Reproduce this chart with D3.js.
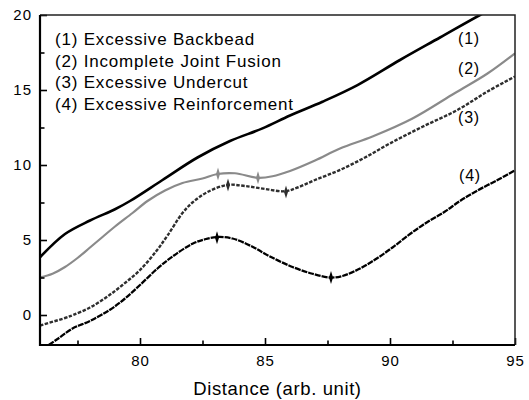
<!DOCTYPE html>
<html>
<head>
<meta charset="utf-8">
<script src="https://cdn.jsdelivr.net/npm/d3@7"></script>
<style>
  body { margin: 0; background: #fff; }
  text { font-family: "Liberation Sans", Arial, sans-serif; fill: #000; }
  .tick-label { font-size: 15px; letter-spacing: 1px; }
  .legend { font-size: 17px; letter-spacing: 0.8px; }
  .curve-label { font-size: 16px; letter-spacing: 0.8px; }
  .x-title { font-size: 18.5px; letter-spacing: 0.6px; }
</style>
</head>
<body>
<svg class="chart" width="529" height="400"></svg>
<script>
// ---- data ----
const x1 = [76, 77, 78, 79, 79.6, 80.9, 82.3, 83.6, 84.9, 86, 87.3, 88.7, 90.4, 92, 93.6, 95];
const y1 = [3.85, 5.4, 6.3, 7.05, 7.6, 9.0, 10.5, 11.6, 12.44, 13.3, 14.22, 15.33, 17.0, 18.5, 20, 21.2];

const x2 = [76, 76.5, 77, 77.5, 78, 78.5, 79, 79.7, 80.3, 81, 81.7, 82.5, 83.1, 83.8, 84.7, 85.3, 86, 87, 88, 89.3, 90.9, 92.6, 93.9, 95];
const y2 = [2.5, 2.75, 3.2, 3.8, 4.5, 5.2, 5.9, 6.8, 7.6, 8.3, 8.8, 9.1, 9.4, 9.45, 9.15, 9.25, 9.6, 10.3, 11.1, 11.9, 13.1, 14.8, 16.1, 17.45];

const x3 = [76, 77, 77.33, 78, 78.67, 79.3, 80, 80.67, 81.1, 81.7, 82.1, 82.7, 83.5, 84.2, 85, 85.8, 86.3, 87, 88, 89, 90, 91.3, 92.7, 93.9, 95];
const y3 = [-0.7, -0.2, 0, 0.5, 1.2, 2.0, 3.0, 4.3, 5.3, 6.8, 7.5, 8.2, 8.67, 8.6, 8.4, 8.25, 8.5, 9.0, 9.67, 10.5, 11.44, 12.55, 13.67, 14.9, 15.9];

const x4 = [76.35, 76.7, 77.3, 78, 78.8, 79.4, 80, 80.7, 81.3, 82.1, 82.6, 83.1, 83.7, 84.5, 85.2, 86.1, 86.9, 87.6, 88.1, 88.8, 89.5, 90.1, 90.8, 91.5, 92.2, 92.8, 93.5, 94.3, 95];
const y4 = [-2, -1.6, -0.9, -0.4, 0.35, 1.1, 2.0, 3.1, 3.9, 4.75, 5.05, 5.2, 5.1, 4.55, 3.9, 3.2, 2.75, 2.5, 2.6, 3.1, 3.8, 4.5, 5.4, 6.2, 6.9, 7.6, 8.3, 9.0, 9.65];

// marked points on curves 2, 3, 4
const markX = [83.12, 84.72, 83.52, 85.84, 83.08, 87.64];
const markY = [9.4, 9.15, 8.67, 8.2, 5.15, 2.5];
const markCurve = [2, 2, 3, 3, 4, 4];

const legendLabels = ['(1) Excessive Backbead', '(2) Incomplete Joint Fusion', '(3) Excessive Undercut', '(4) Excessive Reinforcement'];
const curveTags = ['(1)', '(2)', '(3)', '(4)'];
const tagX = [93.16, 93.16, 93.16, 93.2];
const tagY = [18.47, 16.47, 13.2, 9.33];

const xTicks = [80, 85, 90, 95];
const xMinor = [77.5, 82.5, 87.5, 92.5];
const yTicks = [0, 5, 10, 15, 20];
const yMinor = [2.5, 7.5, 12.5, 17.5];

// ---- chart ----
const svg = d3.select('.chart');
const margin = { left: 40, top: 15, right: 14, bottom: 55 };
const width = +svg.attr('width') - margin.left - margin.right;
const height = +svg.attr('height') - margin.top - margin.bottom;

const x = d3.scaleLinear().domain([76, 95]).range([0, width]);
const y = d3.scaleLinear().domain([-2, 20]).range([height, 0]);

const g = svg.append('g').attr('transform', `translate(${margin.left},${margin.top})`);

g.append('clipPath').attr('id', 'plot')
  .append('rect').attr('width', width).attr('height', height);

const styles = [
  { stroke: '#000', width: 2.6, dash: null },
  { stroke: '#8a8a8a', width: 2.2, dash: null },
  { stroke: '#2e2e2e', width: 2.4, dash: '3.5,1.5' },
  { stroke: '#000', width: 2.3, dash: '6,1' }
];
const series = [[x1, y1], [x2, y2], [x3, y3], [x4, y4]];

const line = d3.line()
  .x(d => x(d[0]))
  .y(d => y(d[1]))
  .curve(d3.curveCatmullRom.alpha(0.5));

const curves = g.append('g').attr('clip-path', 'url(#plot)');
series.forEach((s, i) => {
  const pts = s[0].map((v, j) => [v, s[1][j]]);
  curves.append('path')
    .datum(pts)
    .attr('d', line)
    .attr('fill', 'none')
    .attr('stroke', styles[i].stroke)
    .attr('stroke-width', styles[i].width)
    .attr('stroke-dasharray', styles[i].dash)
    .attr('stroke-linejoin', 'round');
});

// vertical diamond markers
g.selectAll('.mark')
  .data(markX.map((v, i) => ({ x: v, y: markY[i], c: markCurve[i] })))
  .enter()
  .append('path')
  .attr('class', 'mark')
  .attr('transform', d => `translate(${x(d.x)},${y(d.y)})`)
  .attr('d', 'M0,-6.5L2,0L0,6.5L-2,0Z')
  .attr('fill', d => styles[d.c - 1].stroke);

// axes
const xAxis = d3.axisBottom(x).tickValues(xTicks).tickSize(-7).tickPadding(10).tickFormat(d3.format('d'));
const yAxis = d3.axisLeft(y).tickValues(yTicks).tickSize(-7).tickPadding(8).tickFormat(d3.format('d'));

const xAxisG = g.append('g').attr('transform', `translate(0,${height})`).call(xAxis);
const yAxisG = g.append('g').call(yAxis);

[xAxisG, yAxisG].forEach(a => {
  a.select('.domain').remove();
  a.selectAll('.tick line').attr('stroke', '#000').attr('stroke-width', 1.6);
  a.selectAll('.tick text').attr('class', 'tick-label').attr('fill', '#000');
});

g.append('g').attr('transform', `translate(0,${height})`)
  .call(d3.axisBottom(x).tickValues(xMinor).tickSize(-4.5).tickFormat(''))
  .call(a => a.select('.domain').remove())
  .selectAll('.tick line').attr('stroke', '#000').attr('stroke-width', 1.6);

g.append('g')
  .call(d3.axisLeft(y).tickValues(yMinor).tickSize(-4.5).tickFormat(''))
  .call(a => a.select('.domain').remove())
  .selectAll('.tick line').attr('stroke', '#000').attr('stroke-width', 1.6);

// frame
g.append('path')
  .attr('d', `M0,0H${width}V${height}`)
  .attr('fill', 'none').attr('stroke', '#222').attr('stroke-width', 1.5);
g.append('path')
  .attr('d', `M0,0V${height}H${width}`)
  .attr('fill', 'none').attr('stroke', '#000').attr('stroke-width', 2.2);

// legend text
g.selectAll('.legend')
  .data(legendLabels)
  .enter()
  .append('text')
  .attr('class', 'legend')
  .attr('x', 15)
  .attr('y', (d, i) => 30 + i * 21.7)
  .text(d => d);

// curve tags
g.selectAll('.curve-label')
  .data(curveTags)
  .enter()
  .append('text')
  .attr('class', 'curve-label')
  .attr('x', (d, i) => x(tagX[i]))
  .attr('y', (d, i) => y(tagY[i]))
  .attr('text-anchor', 'middle')
  .attr('dy', '0.35em')
  .text(d => d);

g.append('text')
  .attr('class', 'x-title')
  .attr('x', width / 2)
  .attr('y', height + 50)
  .attr('text-anchor', 'middle')
  .text('Distance (arb. unit)');
</script>
</body>
</html>
